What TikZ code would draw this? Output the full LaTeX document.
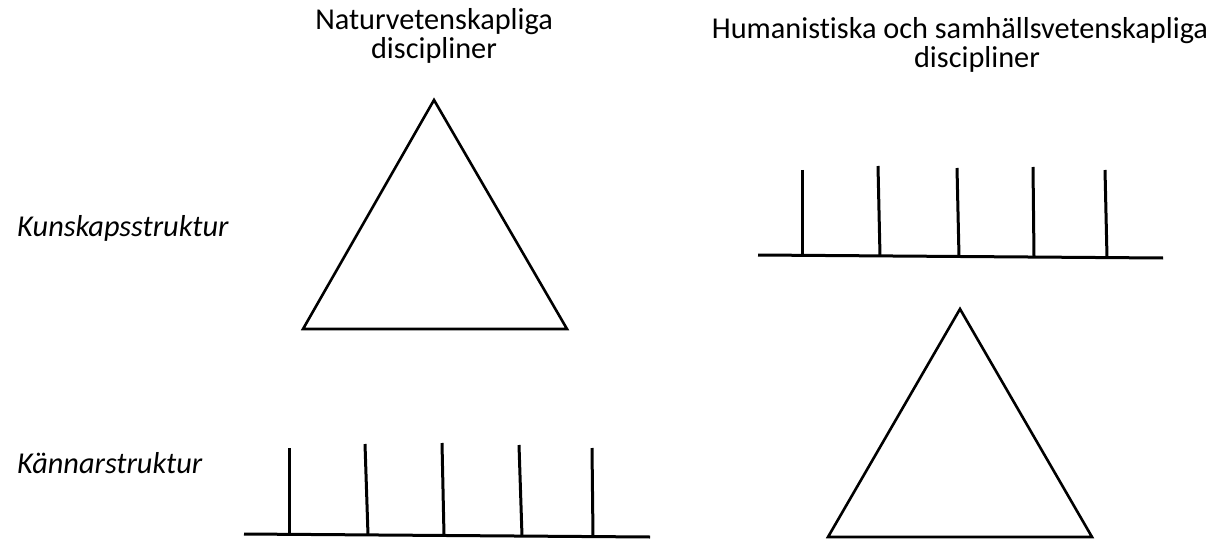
\documentclass[tikz,border=0pt]{standalone}
\usepackage{fontspec}
\setmainfont{Carlito}[Ligatures={NoCommon,NoRare}]
\begin{document}
\begin{tikzpicture}[x=1pt,y=-1pt,
  shape line/.style={line width=2.6pt,line join=miter},
  comb line/.style={line width=3pt},
  title/.style={font=\fontsize{30.3}{28.5}\selectfont,anchor=base,inner sep=0pt},
  rowlabel/.style={font=\fontsize{30.3}{34}\selectfont\itshape,anchor=base west,inner sep=0pt}]
\useasboundingbox (0,0) rectangle (1212,540);
% titles
\node[title] (t1a) at (434,30) {Naturvetenskapliga};
\node[title] (t1b) at (434,58.5) {discipliner};
\node[title] (t2a) at (960,39) {Humanistiska och samhällsvetenskapliga};
\node[title] (t2b) at (977,67.5) {discipliner};
% row labels
\node[rowlabel] (r1) at (17,236) {Kunskapsstruktur};
\node[rowlabel] (r2) at (17,473) {Kännarstruktur};
% triangle 1
\coordinate (a1) at (434,100);
\coordinate (b1) at (303,329);
\coordinate (c1) at (567,329);
\draw[shape line] (a1) -- (b1) -- (c1) -- cycle;
% triangle 2
\coordinate (a2) at (960,309);
\coordinate (b2) at (828,537);
\coordinate (c2) at (1092,537);
\draw[shape line] (a2) -- (b2) -- (c2) -- cycle;
% comb 1 (bottom left)
\coordinate (L1) at (244,534);
\coordinate (R1) at (650,537);
\draw[comb line] (L1) -- (R1);
\coordinate (p1t) at (289,448); \coordinate (p1b) at (289,534.5);
\coordinate (p2t) at (365,444); \coordinate (p2b) at (368,535);
\coordinate (p3t) at (442,443); \coordinate (p3b) at (444,535.5);
\coordinate (p4t) at (519,445); \coordinate (p4b) at (522,536);
\coordinate (p5t) at (592,448); \coordinate (p5b) at (593,536.5);
\foreach \i in {1,...,5} \draw[comb line] (p\i t) -- (p\i b);
% comb 2 (top right)
\coordinate (L2) at (758,255);
\coordinate (R2) at (1163,258);
\draw[comb line] (L2) -- (R2);
\coordinate (q1t) at (802,170); \coordinate (q1b) at (802,255.3);
\coordinate (q2t) at (878,166); \coordinate (q2b) at (880,255.9);
\coordinate (q3t) at (957,168); \coordinate (q3b) at (959,256.5);
\coordinate (q4t) at (1033,167); \coordinate (q4b) at (1034,257);
\coordinate (q5t) at (1105,170); \coordinate (q5b) at (1107,257.5);
\foreach \i in {1,...,5} \draw[comb line] (q\i t) -- (q\i b);
\end{tikzpicture}
\end{document}
